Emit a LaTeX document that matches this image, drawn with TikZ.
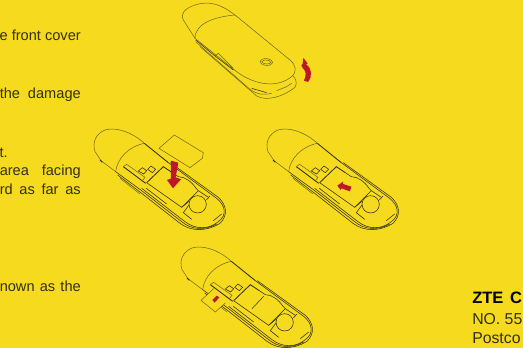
\documentclass[tikz,border=0pt]{standalone}
\usepackage{fontspec}
\setmainfont{Liberation Sans}
\usepackage{xcolor}
\usetikzlibrary{arrows.meta}
\definecolor{pageyellow}{RGB}{245,218,30}
\definecolor{inkdark}{RGB}{52,48,20}
\definecolor{inkthin}{RGB}{112,100,30}
\definecolor{markred}{RGB}{190,22,42}
\newcommand{\fullline}[1]{\makebox[81pt][s]{#1}}
\tikzset{
 every picture/.style={line width=.5pt},
 bodytext/.style={anchor=base east,inner sep=0pt,text=inkdark,font=\fontsize{14.6}{17}\selectfont},
 addrtext/.style={anchor=base west,inner sep=0pt,text=inkdark,font=\fontsize{15.8}{18}\selectfont},
 thinline/.style={draw=inkthin,line width=.5pt},
 darkline/.style={draw=inkdark,line width=.55pt},
 heavyline/.style={draw=inkdark,line width=.85pt},
 redmark/.style={fill=markred,draw=none},
 opendongle/.pic={
  % cap and its seam
  \draw[thinline] (178,70) .. controls (140,35) and (90,20) .. (60,30)
   .. controls (35,40) and (20,65) .. (30,95)--(48,122)--(92,155);
  \draw[thinline] (178,70) .. controls (130,80) and (97,115) .. (92,155);
  \draw[heavyline] (45,120)--(52,127);
  % upper edge and rounded end
  \draw[heavyline] (178,70)--(250,128);
  \draw[darkline] (250,128)--(395,235) .. controls (420,255) and (428,285) .. (400,305)
   .. controls (370,330) and (330,328) .. (300,305)--(170,205);
  \draw[darkline] (256,128)--(400,232) .. controls (425,255) and (430,285) .. (405,310);
  % lower edge, several lines side by side
  \draw[darkline] (92,155)--(170,212)--(290,305) .. controls (320,330) and (360,332) .. (395,312);
  \draw[darkline] (98,165)--(170,220)--(285,310) .. controls (318,335) and (365,335) .. (405,310);
  \draw[thinline] (105,175)--(165,222);
  \draw[darkline] (184,205)--(245,252);
  % slot and small marks
  \draw[heavyline] (115,140)--(182,190);
  \draw[thinline] (115,140)--(125,133)--(180,172)--(172,182);
  \draw[darkline] (160,153)--(172,143)--(185,152)--(176,162)--cycle;
  \draw[darkline] (188,148)--(198,138)--(212,148)--(202,158)--cycle;
  % tray
  \draw[heavyline] (185,188)--(235,140)--(262,158);
  \draw[darkline] (262,158)--(280,170) .. controls (300,170) and (320,185) .. (333,205)--(340,212);
  \draw[darkline] (340,212)--(290,262)--(185,188);
  \draw[darkline] (290,262)--(312,244);
  \draw[darkline] (340,212)--(370,232);
  \draw[darkline] (338,253) circle[radius=26];
  \draw[darkline] (312,255)--(295,278)--(320,298);
  \draw[darkline] (364,240)--(375,228);
  \draw[darkline] (385,302)--(410,282);
 }
}

\begin{document}
\begin{tikzpicture}[x=1pt,y=-1pt]
 \fill[pageyellow] (0,0) rectangle (523,348);
 \useasboundingbox (0,0) rectangle (523,348);
 \clip (0,0) rectangle (523,348);

 % left column, cut off by the page
 \node[bodytext] (txtcover) at (81,41) {e front cover};
 \node[bodytext] (txtdamage) at (81,98) {\fullline{the damage}};
 \node[bodytext] (txtend) at (8,157) {t.};
 \node[bodytext] (txtarea) at (81,175) {\fullline{area facing}};
 \node[bodytext] (txtfar) at (81,194) {\fullline{rd as far as}};
 \node[bodytext] (txtshown) at (81,291) {\fullline{nown as the}};

 % closed device
 \begin{scope}[shift={(150,0)},x=1/3*1pt,y=-1/3*1pt]
  \draw[thinline] (255,45) .. controls (215,15) and (180,0) .. (135,15)
   .. controls (105,25) and (90,40) .. (100,60)--(135,115);
  \draw[thinline] (255,45) .. controls (195,50) and (135,70) .. (135,115);
  \draw[thinline] (255,45)--(420,180) .. controls (438,195) and (442,215) .. (425,230);
  \draw[thinline] (135,115)--(250,207) .. controls (300,250) and (375,270) .. (425,230);
  \draw[darkline] (137,120)--(195,168)--(250,210);
  \draw[thinline] (137,125)--(205,185)--(300,268) .. controls (325,285) and (340,285) .. (365,280);
  \draw[thinline] (150,140)--(320,288) .. controls (350,305) and (400,290) .. (435,262)
   .. controls (442,250) and (438,238) .. (430,228);
  \draw[darkline] (305,265)--(350,278);
  \draw[thinline] (195,168)--(205,160)--(250,205);
  \draw[thinline] (380,272)--(410,260)--(425,250);
  \draw[thinline,rotate around={-5:(349,186)}] (349,186) ellipse[x radius=19,y radius=10];
  \draw[thinline,rotate around={-5:(349,186)}] (349,186) ellipse[x radius=13,y radius=6];
  \fill[redmark] (460,174)--(473,190)--(468,193) .. controls (486,205) and (488,228) .. (474,246)
   --(462,242) .. controls (470,225) and (468,212) .. (458,204)--(454,196)--(458,192)--cycle;
 \end{scope}

 % device with card above the tray
 \begin{scope}[shift={(85,120)},x=1/3*1pt,y=-1/3*1pt]
  \pic (dongleone) {opendongle};
  \draw[thinline] (222,85)--(268,45)--(355,98)--(352,115)--(315,143)--cycle;
  \fill[redmark] (258,122)--(280,128)--(272,172)--(288,178)--(264,205)--(246,180)--(258,176)--cycle;
 \end{scope}

 % device with card in the tray
 \begin{scope}[shift={(258,120)},x=1/3*1pt,y=-1/3*1pt]
  \pic (dongletwo) {opendongle};
  \fill[redmark] (238,197)--(255,185)--(255,192)--(280,200)--(276,214)--(250,205)--(248,210)--cycle;
 \end{scope}

 % device with card sliding out
 \begin{scope}[shift={(172,238)},x=1/3*1pt,y=-1/3*1pt]
  \pic (donglethree) {opendongle};
  \draw[darkline] (240,212)--(275,175);
  \fill[pageyellow] (87,187)--(125,152)--(160,195)--(130,222)--cycle;
  \draw[thinline] (87,187)--(125,152);
  \draw[thinline] (87,187)--(130,222)--(160,195);
  \fill[redmark] (121,186)--(134,173)--(142,178)--(128,194)--cycle;
 \end{scope}

 % address block, cut off by the page
 \node[addrtext,font=\fontsize{16.5}{18}\bfseries\selectfont,text=black] (txtzte) at (472,303) {ZTE\hspace{2pt} C};
 \node[addrtext] (txtno) at (472,324) {NO. 55};
 \node[addrtext] (txtpost) at (472,343) {Postco};
\end{tikzpicture}
\end{document}
